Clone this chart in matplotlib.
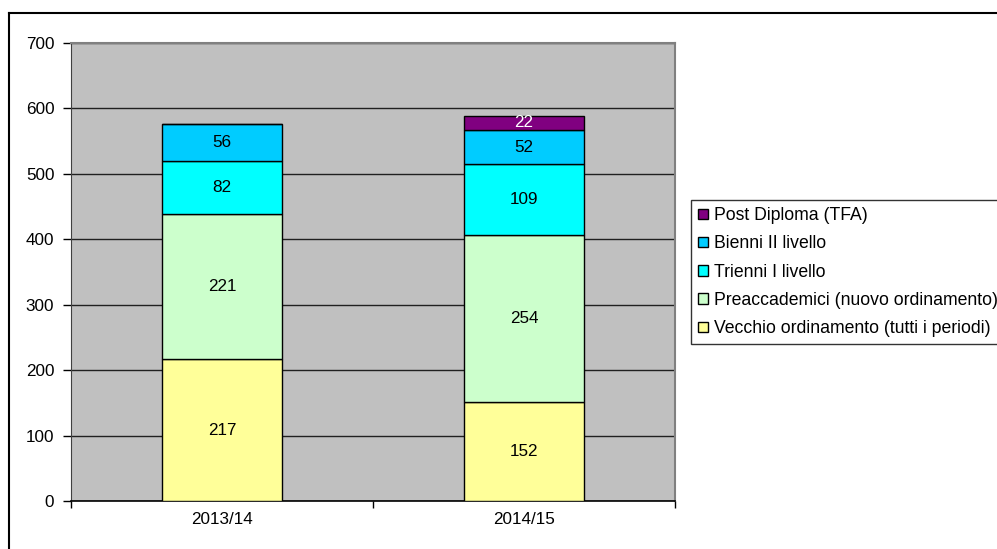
import numpy as np
import matplotlib.pyplot as plt
from matplotlib.lines import Line2D

plt.rcParams['font.family'] = ['Liberation Sans', 'DejaVu Sans']

years = ['2013/14', '2014/15']
series = ['Vecchio ordinamento (tutti i periodi)',
          'Preaccademici (nuovo ordinamento)',
          'Trienni I livello',
          'Bienni II livello',
          'Post Diploma (TFA)']
vecchio = [217, 152]
preacc = [221, 254]
trienni = [82, 109]
bienni = [56, 52]
tfa = [0, 22]
colors = ['#FFFF99', '#CCFFCC', '#00FFFF', '#00CCFF', '#800080']
label_colors = ['black', 'black', 'black', 'black', 'white']

fig = plt.figure(figsize=(9.97, 5.49), dpi=100)
ax = fig.add_axes([71/997, 1-501/549, (675-71)/997, (501-43)/549])
ax.set_facecolor('#C0C0C0')

x = np.arange(len(years))
bottom = np.zeros(len(years))
for name, vals, c, lc in zip(series, [vecchio, preacc, trienni, bienni, tfa], colors, label_colors):
    vals = np.array(vals, dtype=float)
    ax.bar(x, vals, 0.40, bottom=bottom, color=c, edgecolor='black',
           linewidth=1, label=name, zorder=3)
    for xi, b, v in zip(x, bottom, vals):
        if v > 0:
            ax.text(xi, b + v / 2, '%d' % v, ha='center', va='center',
                    fontsize=12.3, color=lc, zorder=4)
    bottom += vals

ax.set_ylim(0, 700)
ax.set_xlim(-0.5, 1.5)
ax.set_yticks(range(0, 701, 100))
ax.yaxis.grid(True, color='#202020', linewidth=1, zorder=1)
ax.tick_params(axis='y', labelsize=12.3, length=6, direction='out', width=1, pad=6)

ax.set_xticks([-0.5, 0.5, 1.5])
ax.set_xticklabels([])
ax.set_xticks(x, minor=True)
ax.set_xticklabels(years, minor=True, fontsize=12.3)
ax.tick_params(axis='x', which='major', length=5, width=1, direction='out')
ax.tick_params(axis='x', which='minor', length=0, pad=8)

for s in ['top', 'right']:
    ax.spines[s].set_color('#808080')
    ax.spines[s].set_linewidth(1.5)
ax.spines['left'].set_color('#404040')
ax.spines['bottom'].set_color('black')
ax.spines['bottom'].set_linewidth(1.2)

h, l = ax.get_legend_handles_labels()
leg = fig.legend(h[::-1], l[::-1], loc='upper left',
                 bbox_to_anchor=(691/997, 1-200/549), fontsize=12.7,
                 frameon=True, fancybox=False, edgecolor='black',
                 handlelength=0.55, handleheight=0.55, handletextpad=0.35,
                 labelspacing=0.64, borderpad=0.4, borderaxespad=0)
leg.get_frame().set_linewidth(1)

fig.add_artist(Line2D([9/997, 1.0], [1-13/549, 1-13/549], color='black', linewidth=1.5))
fig.add_artist(Line2D([9/997, 9/997], [0, 1-13/549], color='black', linewidth=1.5))

fig.savefig('out.png', dpi=100)
